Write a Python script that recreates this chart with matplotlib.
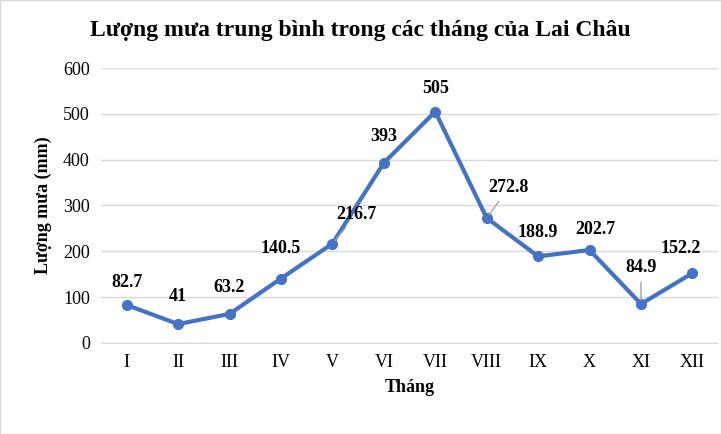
import matplotlib.pyplot as plt

plt.rcParams['font.family'] = ['Liberation Serif', 'DejaVu Serif']

months = ['I', 'II', 'III', 'IV', 'V', 'VI', 'VII', 'VIII', 'IX', 'X', 'XI', 'XII']
rain = [82.7, 41, 63.2, 140.5, 216.7, 393, 505, 272.8, 188.9, 202.7, 84.9, 152.2]
labels = ['82.7', '41', '63.2', '140.5', '216.7', '393', '505', '272.8', '188.9', '202.7', '84.9', '152.2']
# label offsets in pixels (dx, dy) and whether a leader line is drawn
offsets = [(0, 22), (0, 28), (0, 26), (0, 30), (24, 29), (0, 26), (0, 23), (22, 30), (0, 24), (6, 21), (0, 36), (-12, 25)]
leaders = [False, False, False, False, True, False, False, True, False, False, True, False]

fig = plt.figure(figsize=(7.21, 4.34), dpi=100)
ax = fig.add_axes([0.14, 0.21, 0.856, 0.633])
x = range(len(months))
ax.plot(x, rain, color='#4472C4', lw=3, marker='o', ms=7)

for i, (v, t) in enumerate(zip(rain, labels)):
    dx, dy = offsets[i]
    ax.annotate(t, (i, v), xytext=(dx, dy), textcoords='offset pixels',
                ha='center', va='center', fontsize=13, fontweight='bold',
                arrowprops=dict(arrowstyle='-', color='#A6A6A6', lw=1, shrinkA=2, shrinkB=3) if leaders[i] else None)

ax.set_xlim(-0.5, 11.5)
ax.set_ylim(0, 600)
ax.set_yticks(range(0, 601, 100))
ax.set_xticks(list(x))
ax.set_xticklabels(months)
ax.tick_params(labelsize=13, length=0, pad=8)
ax.grid(axis='y', color='#D9D9D9', lw=1)
ax.set_axisbelow(True)
for s in ['top', 'right', 'left']:
    ax.spines[s].set_visible(False)
ax.spines['bottom'].set_color('#D9D9D9')
ax.set_xlabel('Tháng', fontsize=13, fontweight='bold', labelpad=6)
ax.set_ylabel('Lượng mưa (mm)', fontsize=13, fontweight='bold', labelpad=8)
fig.text(0.5, 0.93, 'Lượng mưa trung bình trong các tháng của Lai Châu',
         ha='center', va='center', fontsize=17, fontweight='bold')
fig.patches.append(plt.Rectangle((0, 0), 1, 1, transform=fig.transFigure,
                                 fill=False, edgecolor='#D9D9D9', lw=1))
fig.savefig('out.png', dpi=100)
